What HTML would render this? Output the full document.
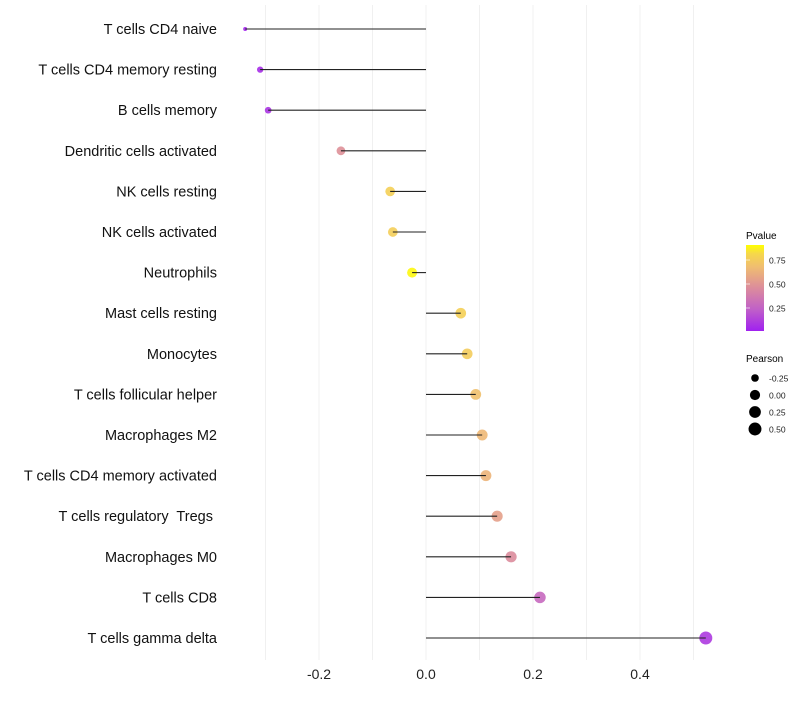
<!DOCTYPE html>
<html><head><meta charset="utf-8"><style>
body{margin:0;background:#fff;font-family:"Liberation Sans",sans-serif}
text{white-space:pre}
</style></head><body>
<svg id="chart" width="800" height="700" xmlns="http://www.w3.org/2000/svg" xml:space="preserve">
<defs><linearGradient id="pg" x1="0" y1="1" x2="0" y2="0">
<stop offset="0" stop-color="#A020F0"/><stop offset="0.25" stop-color="#C060C8"/><stop offset="0.5" stop-color="#DC8C9C"/><stop offset="0.75" stop-color="#F0BE70"/><stop offset="0.9" stop-color="#F6D84A"/><stop offset="1" stop-color="#FFFF00"/></linearGradient></defs>
<g id="grid"></g><g id="marks"></g><g id="ylabels"></g><g id="xlabels"></g>
<g id="legend">
<text x="746" y="239" font-size="10" fill="#000">Pvalue</text>
<rect x="746" y="245" width="18" height="86" fill="url(#pg)"/>
<g id="cbticks"></g>
<text x="746" y="362" font-size="10" fill="#000">Pearson</text>
<g id="sizeleg"></g>
</g>
</svg>
<script>
const categories=["T cells CD4 naive","T cells CD4 memory resting","B cells memory","Dendritic cells activated","NK cells resting","NK cells activated","Neutrophils","Mast cells resting","Monocytes","T cells follicular helper","Macrophages M2","T cells CD4 memory activated","T cells regulatory  Tregs ","Macrophages M0","T cells CD8","T cells gamma delta"];
const pearson=[-0.338,-0.310,-0.295,-0.159,-0.067,-0.062,-0.026,0.065,0.077,0.093,0.105,0.112,0.133,0.159,0.213,0.523];
const pvalues=[0.02,0.05,0.08,0.52,0.85,0.84,0.98,0.85,0.83,0.76,0.72,0.7,0.6,0.5,0.3,0.1];
const xTicks=[-0.2,0,0.2,0.4];
const xTickLabels=["-0.2","0.0","0.2","0.4"];
const cbTicks=[0.25,0.5,0.75];
const sizeLegend=[-0.25,0,0.25,0.5];
const NS="http://www.w3.org/2000/svg";
function X(v){return 426+v*535;}
function Y(i){return 29+i*(609/15);}
function R(p){const t=Math.max(0,Math.min(1,(p+0.338)/0.861));return 2+4.5*Math.pow(t,0.4);}
function CB(v){return 332-v*96;}
const stops=[[0,[160,32,240]],[0.25,[192,96,200]],[0.5,[220,140,156]],[0.75,[240,190,112]],[0.9,[246,216,74]],[1,[255,255,0]]];
function col(v){for(let k=1;k<stops.length;k++){if(v<=stops[k][0]){const a=stops[k-1],b=stops[k],t=(v-a[0])/(b[0]-a[0]);return "rgb("+a[1].map((c,j)=>Math.round(c+(b[1][j]-c)*t)).join(",")+")";}}return "rgb(255,255,0)";}
function mk(tag,attrs,parent){const e=document.createElementNS(NS,tag);for(const k in attrs)e.setAttribute(k,attrs[k]);document.getElementById(parent).appendChild(e);return e;}
for(let g=-0.3;g<=0.51;g+=0.1){const gl=mk("line",{x1:X(g),x2:X(g),y1:5,y2:660,stroke:"#f0f0f0","stroke-width":1},"grid");

}
xTicks.forEach((t,i)=>{const e=mk("text",{x:X(t),y:679,"font-size":14,"text-anchor":"middle",fill:"#222"},"xlabels");e.textContent=xTickLabels[i];

});
categories.forEach((c,i)=>{const y=Y(i);
const p=mk("circle",{cx:X(pearson[i]),cy:y,r:R(pearson[i]),fill:col(pvalues[i]),"fill-opacity":0.9},"marks");


const l=mk("line",{x1:X(0),x2:X(pearson[i]),y1:y,y2:y,stroke:"#222","stroke-width":1.1},"marks");


const t=mk("text",{x:217,y:y+5,"font-size":14.5,"text-anchor":"end",fill:"#111"},"ylabels");t.textContent=c;

});
cbTicks.forEach(v=>{const t=mk("text",{x:769,y:CB(v)+3.5,"font-size":8.5,fill:"#222"},"cbticks");t.textContent=v.toFixed(2);


const tl=mk("line",{x1:746,x2:750,y1:CB(v),y2:CB(v),stroke:"#fff","stroke-width":0.6},"cbticks");

});
sizeLegend.forEach((v,i)=>{const y=378+i*17;
const c=mk("circle",{cx:755,cy:y,r:R(v),fill:"#000"},"sizeleg");


const t=mk("text",{x:769,y:y+3.5,"font-size":8.5,fill:"#222"},"sizeleg");t.textContent=v.toFixed(2);

});
</script>
</body></html>
